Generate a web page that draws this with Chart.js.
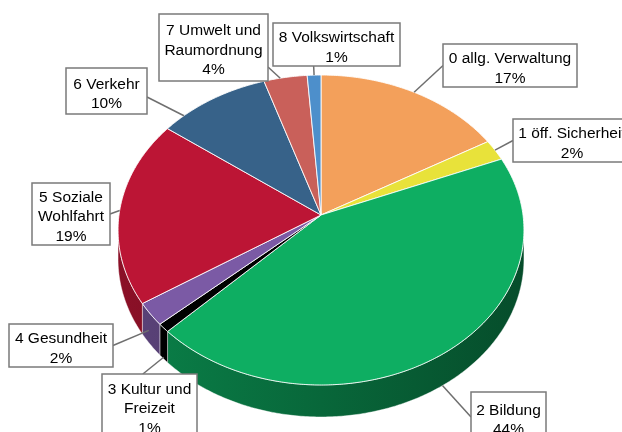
<!DOCTYPE html>
<html><head><meta charset="utf-8">
<script src="https://cdn.jsdelivr.net/npm/chart.js@4/dist/chart.umd.min.js"></script>
<style>html,body{margin:0;padding:0;background:#fff;}canvas{display:block;}</style>
</head><body>
<canvas id="c" width="622" height="432"></canvas>
<script>
// ---- data ----
const categories = [
  ["0 allg. Verwaltung"],
  ["1 öff. Sicherheit"],
  ["2 Bildung"],
  ["3 Kultur und", "Freizeit"],
  ["4 Gesundheit"],
  ["5 Soziale", "Wohlfahrt"],
  ["6 Verkehr"],
  ["7 Umwelt und", "Raumordnung"],
  ["8 Volkswirtschaft"]
];
const shares = [16.7, 2.2, 43.8, 0.9, 2.4, 19.4, 9.9, 3.8, 1.2];
const sliceColors = ["#F3A05B", "#E8E23A", "#0EAE62", "#000000", "#7B5AA5", "#BC1535", "#376289", "#C9605A", "#4D8FCB"];

// ---- layout (label boxes and leader anchors) ----
const labelBoxes = [
  {x:443, y:44,  w:134, h:43, ax:0,    ay:0.5,  f:0.5,  d:0},
  {x:513, y:119, w:118, h:43, ax:0,    ay:0.5,  f:0.5,  d:0},
  {x:471, y:392, w:75,  h:50, ax:0,    ay:0.5,  f:0.5,  d:1},
  {x:102, y:374, w:95,  h:64, ax:0.43, ay:0,    f:0.5,  d:0.95},
  {x:9,   y:324, w:104, h:43, ax:1,    ay:0.5,  f:0.6,  d:0.6},
  {x:32,  y:183, w:78,  h:62, ax:1,    ay:0.5,  f:0.5,  d:0},
  {x:66,  y:68,  w:81,  h:46, ax:1,    ay:0.63, f:0.2,  d:0},
  {x:159, y:14,  w:109, h:67, ax:1,    ay:0.79, f:0.38, d:0},
  {x:273, y:23,  w:127, h:43, ax:0.32, ay:1,    f:0.5,  d:0}
];
const VIEW = {e:0.0968, squash:0.76, depth:0.143};

function proj(cx, cy, R, a, dz) {
  const s = Math.sin(a), c = Math.cos(a);
  const k = 1 / (1 - VIEW.e * s);
  return [cx + R * c * k, cy + R * VIEW.squash * s * k + dz * R * VIEW.depth * k];
}
function hexRgb(h){h=h.replace('#','');return [parseInt(h.substr(0,2),16),parseInt(h.substr(2,2),16),parseInt(h.substr(4,2),16)];}
function shade(h, f){const c=hexRgb(h);return 'rgb('+c.map(v=>Math.round(v*f)).join(',')+')';}

const pie3d = {
  id: 'pie3d',
  beforeDatasetsDraw(chart) {
    const ctx = chart.ctx;
    const arcs = chart.getDatasetMeta(0).data;
    if (!arcs.length) return false;
    const cx = arcs[0].x, cy = arcs[0].y, R = arcs[0].outerRadius;
    const lo = Math.asin(VIEW.e), hi = Math.PI - lo;
    ctx.save();
    // sides
    arcs.forEach((arc, i) => {
      const s = Math.max(arc.startAngle, lo), t = Math.min(arc.endAngle, hi);
      if (s >= t) return;
      const n = Math.max(2, Math.ceil((t - s) / 0.01));
      ctx.beginPath();
      for (let j = 0; j <= n; j++) {
        const p = proj(cx, cy, R, s + (t - s) * j / n, 0);
        j ? ctx.lineTo(p[0], p[1]) : ctx.moveTo(p[0], p[1]);
      }
      for (let j = n; j >= 0; j--) {
        const p = proj(cx, cy, R, s + (t - s) * j / n, 1);
        ctx.lineTo(p[0], p[1]);
      }
      ctx.closePath();
      const g = ctx.createLinearGradient(cx - R, 0, cx + R, 0);
      g.addColorStop(0, shade(sliceColors[i], 0.74));
      g.addColorStop(1, shade(sliceColors[i], 0.44));
      ctx.fillStyle = g;
      ctx.fill();
      ctx.strokeStyle = 'rgba(255,255,255,0.6)';
      ctx.lineWidth = 0.7;
      ctx.stroke();
    });
    // top faces
    arcs.forEach((arc, i) => {
      const s = arc.startAngle, t = arc.endAngle;
      const n = Math.max(2, Math.ceil((t - s) / 0.01));
      ctx.beginPath();
      ctx.moveTo(cx, cy);
      for (let j = 0; j <= n; j++) {
        const p = proj(cx, cy, R, s + (t - s) * j / n, 0);
        ctx.lineTo(p[0], p[1]);
      }
      ctx.closePath();
      ctx.fillStyle = sliceColors[i];
      ctx.fill();
      ctx.strokeStyle = 'rgba(255,255,255,0.85)';
      ctx.lineWidth = 1;
      ctx.lineJoin = 'round';
      ctx.stroke();
    });
    ctx.restore();
    return false;
  },
  afterDraw(chart) {
    const ctx = chart.ctx;
    const arcs = chart.getDatasetMeta(0).data;
    const cx = arcs[0].x, cy = arcs[0].y, R = arcs[0].outerRadius;
    const total = shares.reduce((a, b) => a + b, 0);
    ctx.save();
    labelBoxes.forEach((b, i) => {
      const arc = arcs[i];
      const a = arc.startAngle + (arc.endAngle - arc.startAngle) * b.f;
      const p = proj(cx, cy, R, a, b.d);
      ctx.beginPath();
      ctx.moveTo(b.x + b.w * b.ax, b.y + b.h * b.ay);
      ctx.lineTo(p[0], p[1]);
      ctx.strokeStyle = '#6f6f6f';
      ctx.lineWidth = 1.5;
      ctx.stroke();
    });
    labelBoxes.forEach((b, i) => {
      ctx.fillStyle = '#ffffff';
      ctx.fillRect(b.x, b.y, b.w, b.h);
      ctx.strokeStyle = '#7a7a7a';
      ctx.lineWidth = 1.5;
      ctx.strokeRect(b.x, b.y, b.w, b.h);
      const lines = categories[i].concat([Math.round(shares[i] / total * 100) + '%']);
      ctx.fillStyle = '#000';
      ctx.font = "15.5px 'Liberation Sans', Arial, sans-serif";
      ctx.textAlign = 'center';
      ctx.textBaseline = 'middle';
      const lh = 19.5;
      lines.forEach((ln, k) => {
        ctx.fillText(ln, b.x + b.w / 2, b.y + b.h / 2 + (k - (lines.length - 1) / 2) * lh + 3);
      });
    });
    ctx.restore();
  }
};

new Chart(document.getElementById('c').getContext('2d'), {
  type: 'pie',
  data: {
    labels: categories,
    datasets: [{data: shares, backgroundColor: sliceColors, borderWidth: 0, hoverOffset: 0, offset: 0}]
  },
  options: {
    responsive: false,
    animation: false,
    events: [],
    layout: {padding: {left: 119, right: 99, top: 13, bottom: 15}},
    plugins: {legend: {display: false}, tooltip: {enabled: false}}
  },
  plugins: [pie3d]
});
</script>
</body></html>
